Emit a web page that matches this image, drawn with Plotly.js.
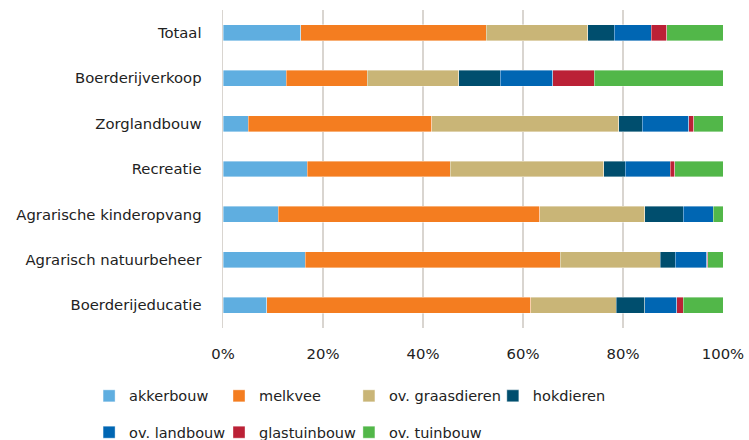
<!DOCTYPE html>
<html>
<head>
<meta charset="utf-8">
<script src="https://cdn.plot.ly/plotly-3.0.1.min.js"></script>
<style>html,body{margin:0;padding:0;background:#fff;}#chart{width:749px;height:440px;}</style>
</head>
<body>
<div id="chart"></div>
<script>
const categories = ["Totaal","Boerderijverkoop","Zorglandbouw","Recreatie","Agrarische kinderopvang","Agrarisch natuurbeheer","Boerderijeducatie"];
const seriesNames = ["akkerbouw","melkvee","ov. graasdieren","hokdieren","ov. landbouw","glastuinbouw","ov. tuinbouw"];
const akkerbouw      = [15.5, 12.6,  5.0, 16.8, 11.0, 16.4,  8.7];
const melkvee        = [37.1, 16.2, 36.7, 28.6, 52.3, 51.0, 52.8];
const graasdieren    = [20.3, 18.3, 37.4, 30.7, 21.0, 20.0, 17.1];
const hokdieren      = [ 5.3,  8.3,  4.7,  4.3,  7.7,  3.0,  5.7];
const landbouw       = [ 7.4, 10.5,  9.3,  9.0,  6.0,  6.3,  6.4];
const glastuinbouw   = [ 3.1,  8.3,  1.0,  0.9,  0.0,  0.2,  1.3];
const tuinbouw       = [11.3, 25.8,  5.9,  9.7,  2.0,  3.1,  8.0];
const tickVals = [0, 20, 40, 60, 80, 100];
const tickText = ["0%","20%","40%","60%","80%","100%"];

const values = [akkerbouw, melkvee, graasdieren, hokdieren, landbouw, glastuinbouw, tuinbouw];
const colors = ["#5faee0","#f47d20","#c9b577","#004e6e","#0066b3","#bb2136","#52b749"];
const legendOf = ["legend","legend2","legend3","legend4","legend","legend2","legend3"];

const FONT = "DejaVu Sans, Verdana, sans-serif";
const FS = 14.8;
const LFS = 14.5;
const data = seriesNames.map((n, i) => ({
  type: "bar",
  orientation: "h",
  name: n,
  y: categories,
  x: values[i],
  marker: {color: colors[i], line: {color: "rgba(255,255,255,0.55)", width: 0.7}},
  legend: legendOf[i],
  legendgroup: n,
  hoverinfo: "x+name"
}));

function leg(xpx) {
  return {
    x: (xpx - 223) / 500.3, xanchor: "left",
    y: (328 - 380) / 318.5, yanchor: "top",
    orientation: "v",
    tracegroupgap: 14.5,
    font: {family: FONT, size: LFS, color: "#222"},
    bgcolor: "rgba(0,0,0,0)",
    traceorder: "grouped"
  };
}

const layout = {
  width: 749, height: 440,
  margin: {l: 223, r: 25.7, t: 9.5, b: 112, autoexpand: false},
  paper_bgcolor: "#fff", plot_bgcolor: "#fff",
  barmode: "stack",
  bargap: 0.65,
  font: {family: FONT, size: FS, color: "#222"},
  showlegend: true,
  legend: leg(89),
  legend2: leg(219),
  legend3: leg(349),
  legend4: leg(493),
  xaxis: {
    range: [0, 100],
    tickvals: tickVals, ticktext: tickText,
    showgrid: true, gridcolor: "#d9d5d0", gridwidth: 1.5,
    zeroline: false, showline: false,
    ticks: "outside", ticklen: 12, tickcolor: "rgba(0,0,0,0)",
    tickfont: {family: FONT, size: FS, color: "#222"},
    fixedrange: true
  },
  yaxis: {
    type: "category",
    categoryorder: "array", categoryarray: categories,
    autorange: "reversed",
    showgrid: false, zeroline: false, showline: true,
    linecolor: "#d9d5d0", linewidth: 1.5,
    ticks: "outside", ticklen: 17, tickcolor: "rgba(0,0,0,0)",
    tickfont: {family: FONT, size: FS, color: "#222"},
    fixedrange: true
  }
};

Plotly.newPlot("chart", data, layout, {displayModeBar: false, staticPlot: true});
</script>
</body>
</html>
